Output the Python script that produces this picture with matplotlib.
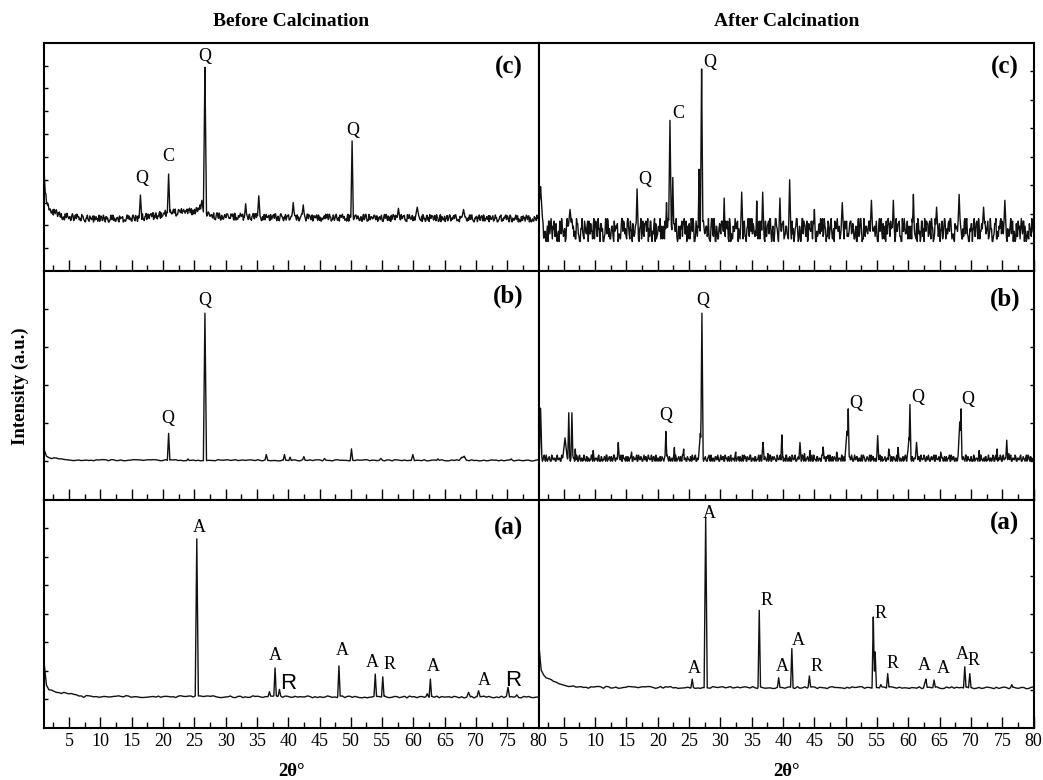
import numpy as np
import matplotlib.pyplot as plt
from matplotlib.ticker import MultipleLocator

plt.rcParams['font.family'] = ['Liberation Serif', 'DejaVu Serif']

# hand typed baseline noise (digits 0-9)
noise_a = ("3725140683915270483625190738641730592846037461829574029385162865031947"
           "5193847260306182749582470135961583649027490615273863194708250748362915"
           "9260417384385190264770346182592697340185451827390609625847136287130594"
           "1439862075817502634936027491585941370862278451609390136458274652098371"
           "0397865124782049351651462793082068734951973405168238952176406412983057"
           "05276914388361450279125983670449703128656803127594")
noise_b = ("1020314021031204120351021304201304021103201470213002130413021402031042"
           "0130260214031204102214030120312041302104021301482031024130201430210314"
           "0203120413021304120613021043021402031204031205140231021403204102031402"
           "1304021307204103120413021403120412031024031204130210420314023104120312"
           "0214031204912031402130120413021403120314021304210312041302140312042103"
           "14021304120314021304821304120314021302140312041302")
# denser version for the noisy scans
noise_d = ''.join(p + q for p, q in zip(noise_a, noise_a[::-1]))
noise_e = ''.join(p + q for p, q in zip(noise_b, noise_b[::-1]))

# ---- Before calcination ----
bc_bg_x = [1, 1.2, 1.6, 2.5, 4, 8, 15, 19, 21, 25.5, 28, 40, 80]
bc_bg_y = [0.43, 0.32, 0.27, 0.245, 0.225, 0.215, 0.215, 0.228, 0.24, 0.248, 0.225, 0.22, 0.215]
bc_pk_x = [16.4, 20.9, 23.3, 25.9, 26.2, 26.7, 33.2, 35.3, 40.8, 42.4, 50.2, 57.6, 60.6, 68.0]
bc_pk_y = [0.333, 0.425, 0.27, 0.29, 0.31, 0.892, 0.295, 0.33, 0.30, 0.29, 0.57, 0.275, 0.28, 0.27]
bc_pk_w = [0.2, 0.2, 0.2, 0.2, 0.25, 0.25, 0.2, 0.2, 0.25, 0.25, 0.2, 0.2, 0.25, 0.3]
bc_labels = [('Q', 16.55, 0.405), ('C', 20.85, 0.50), ('Q', 26.6, 0.939), ('Q', 50.25, 0.617)]

bb_bg_x = [1, 1.3, 2, 3.5, 6, 80]
bb_bg_y = [0.218, 0.19, 0.18, 0.175, 0.17, 0.169]
bb_pk_x = [20.9, 24.0, 26.7, 36.5, 39.4, 40.3, 42.5, 45.8, 50.1, 54.8, 59.9, 63.9, 67.7, 68.1, 73.2, 75.6]
bb_pk_y = [0.29, 0.178, 0.816, 0.197, 0.197, 0.185, 0.188, 0.18, 0.222, 0.18, 0.197, 0.178, 0.185, 0.19, 0.173, 0.178]
bb_pk_w = [0.2, 0.2, 0.25, 0.2, 0.2, 0.2, 0.2, 0.2, 0.2, 0.25, 0.25, 0.2, 0.35, 0.35, 0.2, 0.2]
bb_labels = [('Q', 20.8, 0.353), ('Q', 26.6, 0.872)]

ba_bg_x = [1, 1.2, 1.6, 3, 5, 7, 80]
ba_bg_y = [0.283, 0.20, 0.165, 0.155, 0.145, 0.134, 0.131]
ba_pk_x = [25.4, 37.0, 37.9, 38.6, 48.1, 53.9, 55.1, 62.2, 62.7, 68.8, 70.4, 75.1, 76.5]
ba_pk_y = [0.828, 0.159, 0.263, 0.169, 0.272, 0.236, 0.224, 0.15, 0.214, 0.156, 0.163, 0.178, 0.145]
ba_pk_w = [0.25, 0.2, 0.2, 0.2, 0.2, 0.2, 0.2, 0.2, 0.2, 0.3, 0.25, 0.25, 0.2]
ba_labels = [('A', 25.75, 0.879), ('A', 38.0, 0.319), ('A', 48.6, 0.341), ('A', 53.45, 0.285),
             ('R', 56.25, 0.28), ('A', 63.25, 0.268), ('A', 71.35, 0.21)]
ba_sans = [('R', 39.95, 0.195), ('R', 75.9, 0.21)]

# ---- After calcination ----
ac_bg_x = [1, 1.4, 2, 80]
ac_bg_y = [0.30, 0.14, 0.13, 0.13]
ac_pk_x = [1.3, 6.0, 16.7, 21.4, 21.95, 22.4, 26.6, 27.0, 30.6, 33.4, 35.8, 36.75, 39.5,
           41.05, 45.0, 49.45, 54.1, 57.6, 60.8, 64.5, 68.1, 72.0, 75.4]
ac_pk_y = [0.37, 0.27, 0.36, 0.30, 0.66, 0.41, 0.446, 0.885, 0.32, 0.346, 0.307, 0.346, 0.32,
           0.40, 0.27, 0.30, 0.31, 0.31, 0.336, 0.28, 0.336, 0.28, 0.31]
ac_pk_w = [0.2, 0.2, 0.15, 0.15, 0.2, 0.15, 0.15, 0.2, 0.15, 0.15, 0.15, 0.15, 0.15,
           0.15, 0.15, 0.15, 0.15, 0.15, 0.15, 0.15, 0.25, 0.15, 0.15]
ac_labels = [('Q', 18.0, 0.40), ('C', 23.3, 0.69), ('Q', 28.3, 0.914)]

ab_bg_x = [1, 80]
ab_bg_y = [0.168, 0.168]
ab_pk_x = [1.3, 5.2, 5.8, 6.3, 13.7, 21.3, 26.8, 27.05, 36.8, 39.8, 42.7, 46.4, 50.2, 50.4,
           55.1, 60.1, 60.25, 61.3, 68.2, 68.4, 75.7]
ab_pk_y = [0.40, 0.27, 0.38, 0.38, 0.25, 0.298, 0.29, 0.816, 0.25, 0.283, 0.25, 0.23, 0.30, 0.397,
           0.28, 0.27, 0.416, 0.25, 0.34, 0.397, 0.26]
ab_pk_w = [0.2, 0.4, 0.15, 0.15, 0.15, 0.15, 0.3, 0.2, 0.15, 0.15, 0.15, 0.15, 0.3, 0.15,
           0.15, 0.3, 0.15, 0.15, 0.3, 0.15, 0.15]
ab_labels = [('Q', 21.25, 0.368), ('Q', 27.2, 0.872), ('Q', 51.6, 0.42), ('Q', 61.5, 0.448),
             ('Q', 69.4, 0.44)]

aa_bg_x = [1, 1.15, 1.5, 2.5, 4, 6, 9, 80]
aa_bg_y = [0.37, 0.28, 0.24, 0.21, 0.192, 0.18, 0.174, 0.172]
aa_pk_x = [25.5, 27.65, 36.2, 39.3, 41.4, 44.2, 54.4, 54.7, 55.6, 56.7, 62.6, 62.8, 64.1,
           69.0, 69.8, 76.5]
aa_pk_y = [0.214, 0.923, 0.515, 0.22, 0.348, 0.228, 0.486, 0.333, 0.19, 0.238, 0.195, 0.214,
           0.21, 0.268, 0.238, 0.19]
aa_pk_w = [0.2, 0.25, 0.2, 0.2, 0.2, 0.2, 0.2, 0.2, 0.2, 0.2, 0.2, 0.2, 0.2, 0.2, 0.2, 0.2]
aa_labels = [('A', 25.8, 0.261), ('A', 28.2, 0.938), ('R', 37.3, 0.559), ('A', 39.9, 0.271),
             ('A', 42.5, 0.384), ('R', 45.3, 0.271), ('R', 55.5, 0.501), ('R', 57.5, 0.283),
             ('A', 62.5, 0.275), ('A', 65.6, 0.261), ('A', 68.6, 0.322), ('R', 70.4, 0.294)]


def build_trace(bg_x, bg_y, noise, amp, pk_x, pk_y, pk_w):
    xn = np.linspace(1, 80, len(noise))
    yn = np.interp(xn, bg_x, bg_y) + amp * np.array([int(c) for c in noise]) / 9.0
    pk_x, pk_y, pk_w = map(np.asarray, (pk_x, pk_y, pk_w))
    xs = np.unique(np.concatenate([xn, pk_x - pk_w, pk_x, pk_x + pk_w]))
    ys = np.interp(xs, xn, yn)
    for c, h, w in zip(pk_x, pk_y, pk_w):
        base = np.interp(c, xn, yn)
        ys = np.maximum(ys, h - (h - base) * np.abs(xs - c) / w)
    return xs, ys


L, M, R = 44 / 1043, 538.7 / 1043, 1033.7 / 1043
B, T = 1 - 728 / 780, 1 - 42.7 / 780
H = (T - B) / 3

fig = plt.figure(figsize=(10.43, 7.8), dpi=100)

panels = [
    # column, row(0=top), bg_x, bg_y, noise, amp, peaks, labels, tag, tag_y, n_yticks
    (0, 0, bc_bg_x, bc_bg_y, noise_d, 0.03, (bc_pk_x, bc_pk_y, bc_pk_w), bc_labels, '(c)', 0.89, 10),
    (0, 1, bb_bg_x, bb_bg_y, noise_a[::2], 0.005, (bb_pk_x, bb_pk_y, bb_pk_w), bb_labels, '(b)', 0.888, 6),
    (0, 2, ba_bg_x, ba_bg_y, noise_a[1::2], 0.008, (ba_pk_x, ba_pk_y, ba_pk_w), ba_labels, '(a)', 0.872, 8),
    (1, 0, ac_bg_x, ac_bg_y, noise_d, 0.10, (ac_pk_x, ac_pk_y, ac_pk_w), ac_labels, '(c)', 0.892, 8),
    (1, 1, ab_bg_x, ab_bg_y, noise_e, 0.06, (ab_pk_x, ab_pk_y, ab_pk_w), ab_labels, '(b)', 0.875, 6),
    (1, 2, aa_bg_x, aa_bg_y, noise_a[::2], 0.008, (aa_pk_x, aa_pk_y, aa_pk_w), aa_labels, '(a)', 0.894, 6),
]

axes = {}
for col, row, bgx, bgy, noise, amp, peaks, labels, tag, tag_y, nyt in panels:
    left = L if col == 0 else M
    width = (M - L) if col == 0 else (R - M)
    ax = fig.add_axes([left, T - (row + 1) * H, width, H])
    axes[(col, row)] = ax
    xs, ys = build_trace(bgx, bgy, noise, amp, *peaks)
    ax.plot(xs, ys, color='#111111', lw=1.0)
    for s, x, y in labels:
        ax.text(x, y, s, ha='center', va='center', fontsize=13)
    ax.text(75.2 if col == 0 else 75.4, tag_y, tag, ha='center', va='center',
            fontsize=18, fontweight='bold')

    ax.set_xlim(1, 80)
    ax.set_ylim(0, 1)
    ax.xaxis.set_major_locator(MultipleLocator(5))
    ax.xaxis.set_minor_locator(MultipleLocator(2.5))
    ax.set_yticks(np.arange(1, nyt) / nyt)
    ax.tick_params(axis='x', which='major', direction='in', length=8, width=1.0,
                   labelsize=13, pad=3.5)
    ax.tick_params(axis='x', which='minor', direction='in', length=4, width=1.0)
    ax.tick_params(axis='y', direction='in', length=3, width=1.0,
                   left=(col == 0), right=(col == 1), labelleft=False, labelright=False)
    if row != 2:
        ax.tick_params(axis='x', labelbottom=False)
    for sp in ax.spines.values():
        sp.set_linewidth(1.5)

for s, x, y in ba_sans:
    axes[(0, 2)].text(x, y, s, ha='center', va='center', fontsize=16,
                      family=['Liberation Sans', 'DejaVu Sans'])

axes[(0, 0)].set_title('Before Calcination', fontsize=14, fontweight='bold', pad=12)
axes[(1, 0)].set_title('After Calcination', fontsize=14, fontweight='bold', pad=12)

fig.text(20 / 1043, 1 - 386 / 780, 'Intensity (a.u.)', rotation=90, ha='center', va='center',
         fontsize=13.5, fontweight='bold')
fig.text((L + M) / 2, 1 - 771 / 780, '2θ°', ha='center', va='center', fontsize=13.5,
         fontweight='bold')
fig.text((M + R) / 2, 1 - 771 / 780, '2θ°', ha='center', va='center', fontsize=13.5,
         fontweight='bold')

fig.savefig('out.png', dpi=100)
